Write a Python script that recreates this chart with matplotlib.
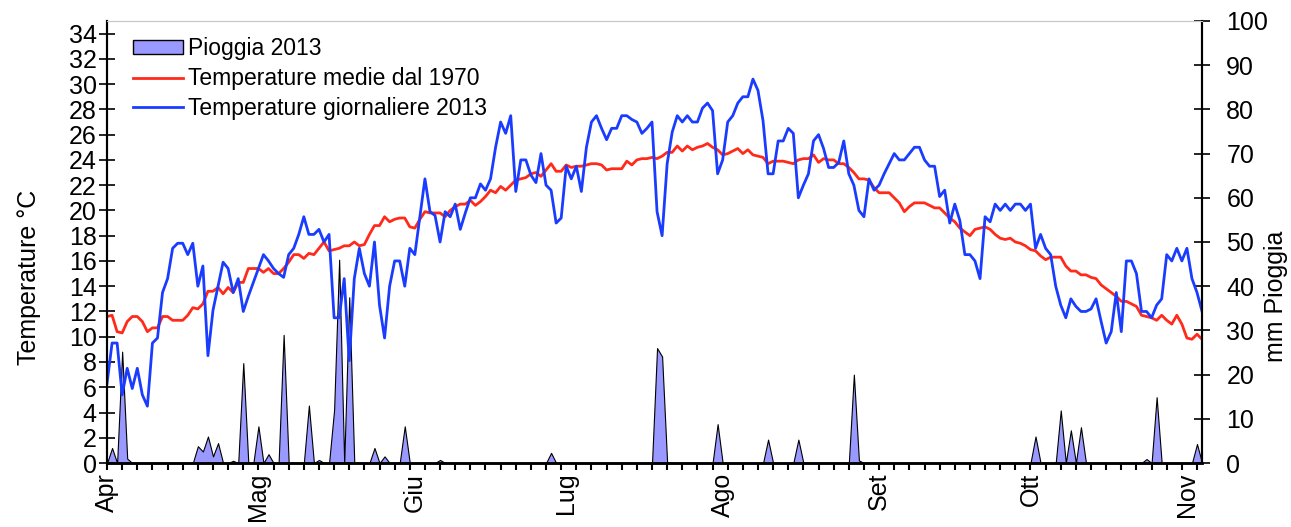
import numpy as np
import matplotlib.pyplot as plt
from matplotlib.patches import Patch
from matplotlib.lines import Line2D

plt.rcParams['font.family'] = ['Liberation Sans', 'DejaVu Sans']

# daily mean temperature 2013, from 1 April (day 0) to 4 November
temp_2013 = [
    6.3, 9.5, 9.5, 5.4, 7.5, 5.9, 7.5, 5.4, 4.5, 9.5,
    9.9, 13.5, 14.6, 17.0, 17.4, 17.4, 16.5, 17.4, 14.0, 15.6,
    8.5, 12.1, 14.0, 15.9, 15.4, 13.5, 14.6, 12.0, 13.2, 14.3,
    15.4, 16.5, 16.0, 15.4, 15.0, 14.7, 16.5, 17.0, 18.1, 19.5,
    18.1, 18.1, 18.5, 17.5, 18.1, 11.5, 11.5, 14.6, 8.1, 14.6,
    17.0, 15.0, 14.0, 17.5, 12.5, 9.9, 14.0, 16.0, 16.0, 14.0,
    17.0, 16.5, 19.5, 22.5, 19.9, 19.6, 17.5, 19.9, 19.5, 20.5,
    18.5, 19.8, 21.0, 21.0, 22.1, 21.6, 22.5, 25.0, 27.0, 26.1,
    27.5, 21.5, 24.0, 24.0, 22.8, 22.2, 24.5, 22.0, 21.6, 19.0,
    19.4, 23.5, 22.5, 23.5, 21.5, 25.0, 27.0, 27.5, 26.5, 25.6,
    26.5, 26.5, 27.5, 27.5, 27.2, 27.0, 26.1, 26.5, 27.0, 19.9,
    18.0, 23.7, 26.2, 27.5, 27.0, 27.5, 27.0, 27.0, 28.1, 28.5,
    27.9, 22.9, 24.0, 27.0, 27.5, 28.5, 29.0, 29.0, 30.4, 29.5,
    27.1, 22.9, 22.9, 25.5, 25.5, 26.5, 26.1, 21.0, 22.0, 22.9,
    25.5, 26.0, 24.9, 23.4, 23.4, 23.8, 25.5, 22.9, 22.0, 20.0,
    19.5, 22.5, 21.6, 22.0, 22.9, 23.7, 24.5, 24.0, 24.0, 24.5,
    25.0, 25.0, 24.0, 23.5, 23.5, 21.1, 21.6, 19.0, 20.5, 19.2,
    16.5, 16.5, 16.0, 14.6, 19.5, 19.1, 20.5, 20.0, 20.5, 20.0,
    20.5, 20.5, 20.0, 20.5, 17.0, 18.1, 17.0, 16.5, 14.0, 12.5,
    11.5, 13.0, 12.4, 12.0, 12.0, 12.2, 13.0, 11.2, 9.5, 10.4,
    13.5, 10.4, 16.0, 16.0, 15.0, 12.0, 12.0, 11.5, 12.5, 13.0,
    16.5, 16.0, 17.0, 16.0, 17.0, 14.6, 13.5, 12.0,
]

# long-term daily mean temperature since 1970
temp_mean = [
    11.6, 11.7, 10.4, 10.3, 11.2, 11.6, 11.6, 11.2, 10.4, 10.7,
    10.7, 11.6, 11.6, 11.3, 11.3, 11.3, 11.7, 12.3, 12.2, 12.6,
    13.6, 13.6, 13.9, 13.4, 13.9, 13.5, 14.3, 14.3, 15.4, 15.4,
    15.4, 15.1, 15.4, 15.0, 15.0, 15.4, 15.9, 16.5, 16.5, 16.2,
    16.6, 16.5, 17.0, 17.5, 16.8, 16.9, 17.0, 17.2, 17.2, 17.5,
    17.2, 17.3, 18.1, 18.8, 18.8, 19.5, 19.1, 19.3, 19.4, 19.4,
    18.7, 18.6, 19.3, 19.9, 19.8, 19.8, 19.8, 19.5, 20.0, 20.3,
    20.5, 20.5, 20.8, 20.4, 20.7, 21.1, 21.6, 21.4, 21.9, 21.6,
    22.0, 22.4, 22.5, 22.6, 22.9, 23.0, 22.7, 23.2, 23.7, 23.1,
    23.1, 23.6, 23.4, 23.5, 23.5, 23.6, 23.7, 23.7, 23.6, 23.2,
    23.3, 23.3, 23.3, 23.9, 23.6, 24.0, 24.1, 24.1, 24.2, 24.1,
    24.3, 24.6, 24.6, 25.1, 24.7, 25.1, 24.8, 25.0, 25.1, 25.3,
    25.0, 24.8, 24.4, 24.5, 24.7, 24.9, 24.5, 24.8, 24.4, 24.3,
    24.2, 23.7, 23.9, 23.9, 23.9, 23.8, 23.7, 24.0, 24.1, 24.1,
    24.4, 23.8, 24.1, 24.0, 24.0, 23.7, 23.7, 23.4, 23.0, 22.5,
    22.5, 22.4, 21.8, 21.4, 21.4, 21.4, 21.0, 20.6, 19.9, 20.3,
    20.6, 20.6, 20.6, 20.4, 20.2, 20.2, 19.8, 19.4, 19.1, 18.6,
    18.3, 18.0, 18.5, 18.6, 18.7, 18.5, 18.1, 17.8, 17.7, 17.8,
    17.5, 17.4, 17.2, 16.9, 16.8, 16.4, 16.1, 16.3, 16.3, 16.3,
    15.6, 15.2, 15.2, 14.9, 14.9, 14.7, 14.6, 14.1, 13.8, 13.5,
    13.2, 12.8, 12.8, 12.6, 12.4, 11.7, 11.6, 11.5, 11.3, 11.7,
    11.3, 11.0, 11.7, 11.0, 9.9, 9.8, 10.2, 9.8,
]

# rainy days (day index) and rain in mm
rain_days = [1, 3, 4, 18, 19, 20, 21, 22, 25, 27, 30, 32, 35, 40, 42, 45, 46,
             48, 53, 55, 59, 66, 88, 109, 110, 121, 131, 137, 148, 149, 184,
             189, 191, 193, 206, 208, 216]
rain_mm = [3.4, 25.2, 1.0, 3.8, 2.6, 6.0, 1.5, 4.5, 0.5, 22.6, 8.3, 2.0, 29.0,
           13.0, 0.7, 12.0, 46.0, 37.5, 3.4, 1.5, 8.3, 0.7, 2.3, 26.0, 24.1,
           8.8, 5.3, 5.3, 20.0, 0.6, 6.0, 11.9, 7.4, 8.1, 0.9, 14.9, 4.3]

month_labels = ['Apr', 'Mag', 'Giu', 'Lug', 'Ago', 'Set', 'Ott', 'Nov']
month_starts = [0, 30, 61, 91, 122, 153, 183, 214]

days = np.arange(len(temp_2013))
rain = np.zeros(len(days))
rain[rain_days] = rain_mm

fig = plt.figure(figsize=(12.91, 5.27), dpi=100)
ax = fig.add_axes([0.0829, 0.1214, 0.8482, 0.8388])
ax2 = ax.twinx()

ax2.fill_between(days, rain, color='#9999ff', edgecolor='black', linewidth=0.8)
ax.plot(days, temp_mean, color='#ff2a1a', lw=2)
ax.plot(days, temp_2013, color='#1a3cff', lw=2)
ax.set_zorder(ax2.get_zorder() + 1)
ax.patch.set_visible(False)

ax.set_xlim(0, 217)
ax.set_ylim(0, 35)
ax2.set_ylim(0, 100)
ax.set_yticks(range(0, 35, 2))
ax2.set_yticks(range(0, 101, 10))

ax.xaxis.remove_overlapping_locs = False
ax.set_xticks(range(0, 218, 3))
ax.set_xticklabels([])
ax.set_xticks(month_starts, minor=True)
ax.set_xticklabels(month_labels, minor=True, rotation=90, fontsize=18)
ax.tick_params(axis='x', which='major', direction='out', length=5, width=1.5)
ax.tick_params(axis='x', which='minor', length=0, pad=7)
ax.tick_params(axis='y', direction='inout', length=11, width=1.2, labelsize=18, pad=2)
ax2.tick_params(axis='y', direction='inout', length=11, width=1.2, labelsize=18, pad=12)

for a in (ax, ax2):
    a.spines['top'].set_color('#c8c8c8')
    a.spines['top'].set_linewidth(0.8)
    a.spines['left'].set_linewidth(1.5)
    a.spines['right'].set_linewidth(1.5)
    a.spines['bottom'].set_linewidth(1.8)

ax.set_ylabel('Temperature °C', fontsize=18)
ax.yaxis.set_label_coords(-0.060, 0.42)
ax2.set_ylabel('mm Pioggia', fontsize=18)
ax2.yaxis.set_label_coords(1.0565, 0.378)

handles = [
    Patch(facecolor='#9999ff', edgecolor='black', linewidth=1),
    Line2D([], [], color='#ff2a1a', lw=2),
    Line2D([], [], color='#1a3cff', lw=2),
]
labels = ['Pioggia 2013', 'Temperature medie dal 1970', 'Temperature giornaliere 2013']
ax.legend(handles, labels, loc='upper left', bbox_to_anchor=(0.015, 0.984),
          frameon=False, fontsize=16.5, handlelength=2.2, handleheight=0.55,
          handletextpad=0.2, labelspacing=0.3, borderaxespad=0)

fig.savefig('out.png', dpi=100)
